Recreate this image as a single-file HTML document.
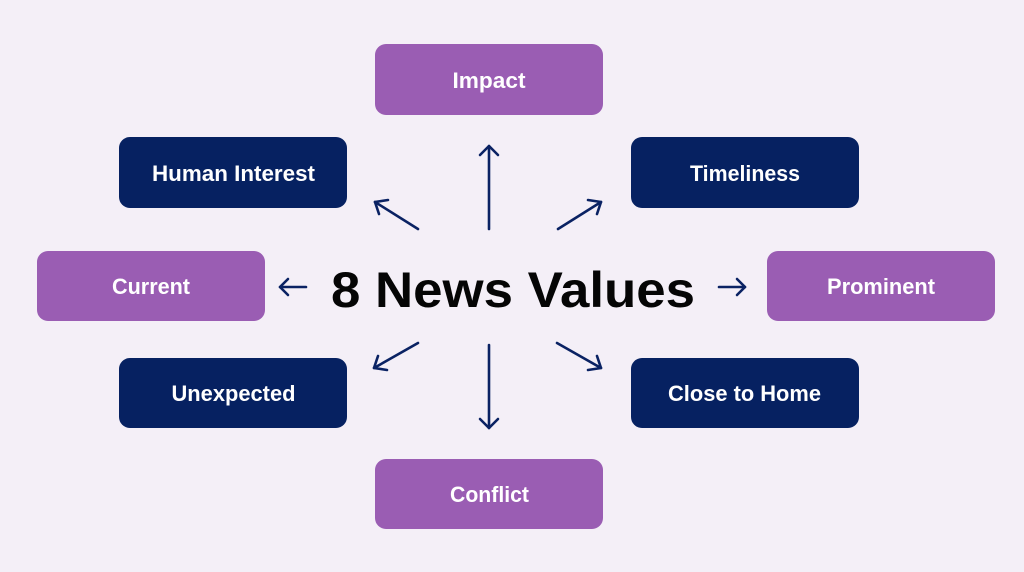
<!DOCTYPE html>
<html><head><meta charset="utf-8"><style>
html,body{margin:0;padding:0;background:#f4eff7;}
svg{display:block;}
.lbl{font-family:"Liberation Sans",sans-serif;font-weight:bold;font-size:22px;fill:#ffffff;}
</style></head><body>
<svg width="1024" height="572" viewBox="0 0 1024 572" xmlns="http://www.w3.org/2000/svg">
<rect x="0" y="0" width="1024" height="572" fill="#f4eff7"/>
<!-- boxes -->
<rect x="375" y="44" width="228" height="71" rx="11" fill="#9a5db3"/>
<rect x="119" y="137" width="228" height="71" rx="11" fill="#062161"/>
<rect x="631" y="137" width="228" height="71" rx="11" fill="#062161"/>
<rect x="37" y="251" width="228" height="70" rx="11" fill="#9a5db3"/>
<rect x="767" y="251" width="228" height="70" rx="11" fill="#9a5db3"/>
<rect x="119" y="358" width="228" height="70" rx="11" fill="#062161"/>
<rect x="631" y="358" width="228" height="70" rx="11" fill="#062161"/>
<rect x="375" y="459" width="228" height="70" rx="11" fill="#9a5db3"/>
<!-- labels -->
<text class="lbl" x="489" y="88" text-anchor="middle" textLength="73" lengthAdjust="spacingAndGlyphs">Impact</text>
<text class="lbl" x="233.5" y="181" text-anchor="middle" textLength="163" lengthAdjust="spacingAndGlyphs">Human Interest</text>
<text class="lbl" x="745" y="181" text-anchor="middle" textLength="110" lengthAdjust="spacingAndGlyphs">Timeliness</text>
<text class="lbl" x="151" y="294" text-anchor="middle" textLength="78" lengthAdjust="spacingAndGlyphs">Current</text>
<text class="lbl" x="881" y="294" text-anchor="middle" textLength="108" lengthAdjust="spacingAndGlyphs">Prominent</text>
<text class="lbl" x="233.5" y="401" text-anchor="middle" textLength="124" lengthAdjust="spacingAndGlyphs">Unexpected</text>
<text class="lbl" x="744.5" y="401" text-anchor="middle" textLength="153" lengthAdjust="spacingAndGlyphs">Close to Home</text>
<text class="lbl" x="489.5" y="502" text-anchor="middle" textLength="79" lengthAdjust="spacingAndGlyphs">Conflict</text>
<!-- title -->
<text x="513" y="307" text-anchor="middle" textLength="364" lengthAdjust="spacingAndGlyphs" font-family="'Liberation Sans',sans-serif" font-weight="bold" font-size="50" fill="#050505">8 News Values</text>
<!-- arrows -->
<g stroke="#0a2263" stroke-width="2.6" fill="none" stroke-linecap="round" stroke-linejoin="round">
  <line x1="489" y1="229" x2="489" y2="146"/>
  <polyline points="480,155 489,146 498,155"/>
  <line x1="489" y1="345" x2="489" y2="428"/>
  <polyline points="480,419 489,428 498,419"/>
  <line x1="418" y1="229" x2="375" y2="202"/>
  <polyline points="379,214 375,202 388,200"/>
  <line x1="558" y1="229" x2="601" y2="202"/>
  <polyline points="588,200 601,202 597,214"/>
  <line x1="418" y1="343" x2="374" y2="368"/>
  <polyline points="378,356 374,368 387,370"/>
  <line x1="557" y1="343" x2="601" y2="368"/>
  <polyline points="597,356 601,368 588,370"/>
  <line x1="306" y1="287" x2="280" y2="287"/>
  <polyline points="288,279 280,287 288,295"/>
  <line x1="719" y1="287" x2="745" y2="287"/>
  <polyline points="737,279 745,287 737,295"/>
</g>
</svg>
</body></html>
